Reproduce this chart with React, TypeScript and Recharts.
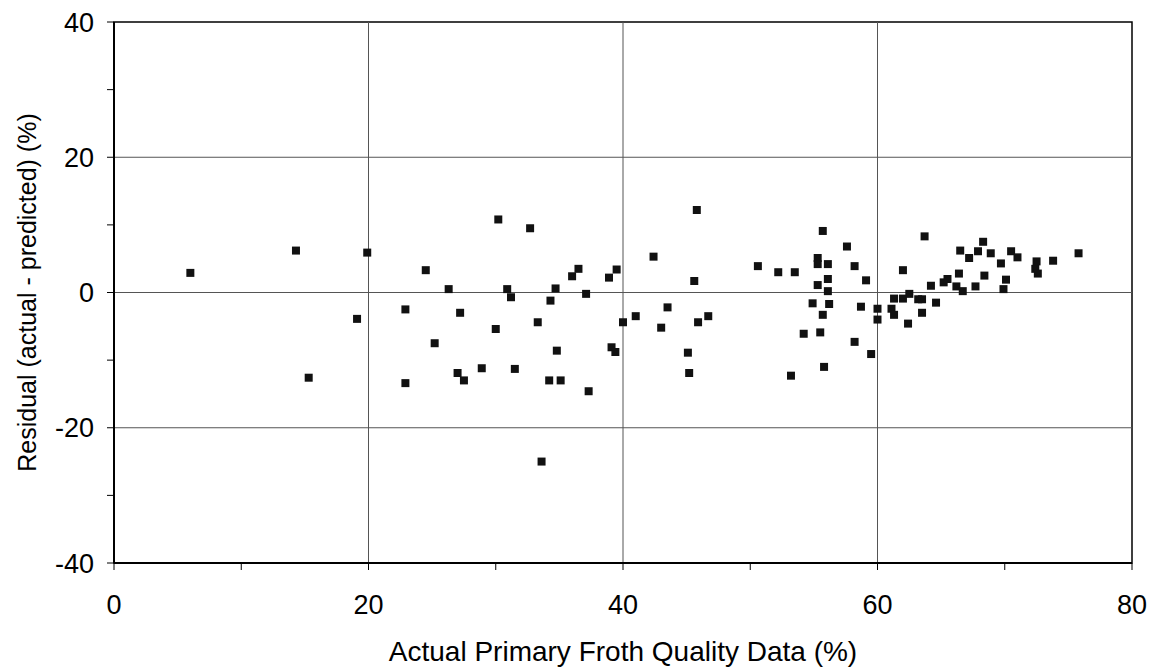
import {
  ScatterChart,
  Scatter,
  XAxis,
  YAxis,
  ZAxis,
  ReferenceLine,
  ReferenceArea,
} from 'recharts';

// actual primary froth quality (%)
const actualQuality = [
  6.0, 14.3, 15.3, 19.1, 19.9, 22.9, 22.9, 24.5, 25.2, 26.3,
  27.0, 27.2, 27.5, 28.9, 30.0, 30.2, 30.9, 31.2, 31.5, 32.7,
  33.3, 33.6, 34.2, 34.3, 34.7, 34.8, 35.1, 36.0, 36.5, 37.1,
  37.3, 38.9, 39.1, 39.4, 39.5, 40.0, 41.0, 42.4, 43.0, 43.5,
  45.1, 45.2, 45.6, 45.8, 45.9, 46.7, 50.6, 52.2, 53.2, 53.5,
  54.2, 54.9, 55.3, 55.3, 55.3, 55.5, 55.7, 55.7, 55.8, 56.1,
  56.1, 56.1, 56.2, 57.6, 58.2, 58.2, 58.7, 59.1, 59.5, 60.0,
  60.0, 61.1, 61.3, 61.3, 62.0, 62.0, 62.4, 62.5, 63.2, 63.5,
  63.5, 63.7, 64.2, 64.6, 65.2, 65.5, 66.2, 66.4, 66.5, 66.7,
  67.2, 67.7, 67.9, 68.3, 68.4, 68.9, 69.7, 69.9, 70.1, 70.5,
  71.0, 72.4, 72.5, 72.6, 73.8, 75.8,
];

// residual (actual - predicted) (%) for each point above
const residual = [
  2.9, 6.2, -12.6, -3.9, 5.9, -2.5, -13.4, 3.3, -7.5, 0.5,
  -11.9, -3.0, -13.0, -11.2, -5.4, 10.8, 0.5, -0.7, -11.3, 9.5,
  -4.4, -25.0, -13.0, -1.2, 0.6, -8.6, -13.0, 2.4, 3.5, -0.2,
  -14.6, 2.2, -8.1, -8.8, 3.4, -4.4, -3.5, 5.3, -5.2, -2.2,
  -8.9, -11.9, 1.7, 12.2, -4.4, -3.5, 3.9, 3.0, -12.3, 3.0,
  -6.1, -1.6, 5.1, 4.2, 1.1, -5.9, 9.1, -3.3, -11.0, 4.2,
  2.0, 0.2, -1.7, 6.8, 3.9, -7.3, -2.1, 1.8, -9.1, -2.4,
  -4.0, -2.4, -3.3, -0.9, 3.3, -0.9, -4.6, -0.2, -1.0, -1.0,
  -3.0, 8.3, 1.0, -1.5, 1.5, 2.0, 0.9, 2.8, 6.2, 0.2,
  5.1, 0.9, 6.1, 7.5, 2.5, 5.8, 4.3, 0.5, 1.9, 6.1,
  5.2, 3.5, 4.6, 2.8, 4.7, 5.8,
];

const xTicks = [0, 10, 20, 30, 40, 50, 60, 70, 80];
const yTicks = [-40, -30, -20, -10, 0, 10, 20, 30, 40];
const gridX = [20, 40, 60];
const gridY = [-20, 0, 20];

const data = actualQuality.map((x, i) => ({ x, y: residual[i] }));

const font = '"Liberation Sans", Arial, sans-serif';
const tickStyle = { fontSize: 27, fill: '#000', fontFamily: font };

const YLabel = ({ viewBox }: any) => {
  const cx = 27;
  const cy = viewBox.y + viewBox.height / 2;
  return (
    <text
      x={cx}
      y={cy}
      transform={`rotate(-90 ${cx} ${cy})`}
      textAnchor="middle"
      dominantBaseline="central"
      fontSize={25}
      fontFamily={font}
      fill="#000"
    >
      Residual (actual - predicted) (%)
    </text>
  );
};

export default function App() {
  return (
    <div style={{ position: 'absolute', left: 0, top: 0, background: '#fff' }}>
      <ScatterChart
        width={1159}
        height={670}
        margin={{ top: 22, right: 27, bottom: 0, left: 0 }}
      >
        <XAxis
          type="number"
          dataKey="x"
          domain={[0, 80]}
          ticks={xTicks}
          interval={0}
          height={107}
          tick={tickStyle}
          tickFormatter={(v: number) => (v % 20 === 0 ? String(v) : '')}
          tickSize={7}
          tickMargin={25}
          stroke="#000"
          axisLine={{ stroke: '#000', strokeWidth: 2 }}
          tickLine={{ stroke: '#000' }}
          label={{
            value: 'Actual Primary Froth Quality Data (%)',
            position: 'insideBottom',
            offset: 9,
            fontSize: 28,
            fontFamily: font,
            fill: '#000',
          }}
        />
        <YAxis
          type="number"
          dataKey="y"
          domain={[-40, 40]}
          ticks={yTicks}
          interval={0}
          width={114}
          tick={tickStyle}
          tickFormatter={(v: number) => (v % 20 === 0 ? String(v) : '')}
          tickSize={7}
          tickMargin={13}
          stroke="#000"
          axisLine={{ stroke: '#000', strokeWidth: 2 }}
          tickLine={{ stroke: '#000' }}
          label={<YLabel />}
        />
        <ZAxis range={[100, 100]} />
        {gridX.map((v) => (
          <ReferenceLine key={`gx${v}`} x={v} stroke="#555" strokeWidth={1} />
        ))}
        {gridY.map((v) => (
          <ReferenceLine key={`gy${v}`} y={v} stroke="#555" strokeWidth={1} />
        ))}
        <ReferenceArea
          x1={0}
          x2={80}
          y1={-40}
          y2={40}
          fill="none"
          fillOpacity={0}
          stroke="#000"
          strokeWidth={1.5}
        />
        <Scatter
          data={data}
          shape="square"
          fill="#111"
          isAnimationActive={false}
        />
      </ScatterChart>
    </div>
  );
}
